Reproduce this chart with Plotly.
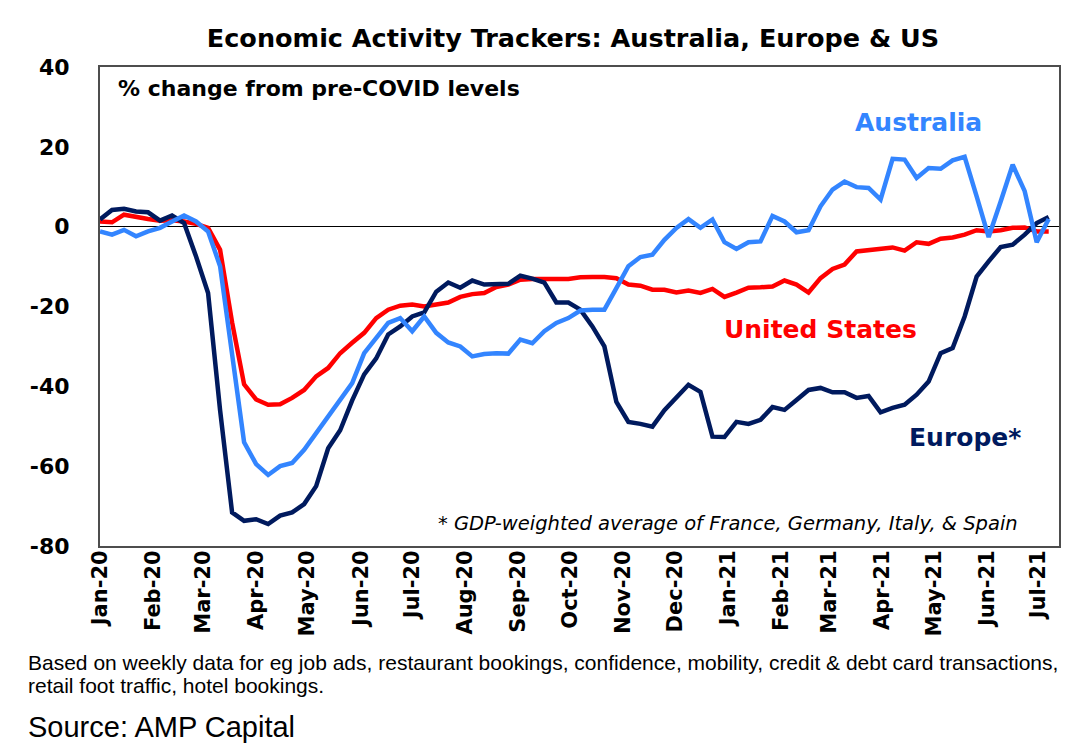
import pandas as pd
import plotly.graph_objects as go

# weekly observations, first week of Jan 2020 to early Jul 2021
weeks = pd.date_range("2020-01-02", periods=80, freq="7D")

australia = [-1.2, -2.0, -0.8, -2.4, -1.2, -0.3, 1.3, 2.8, 1.3, -1.2,
             -9.9, -31.0, -54.0, -59.5, -62.2, -60.0, -59.2, -55.9, -51.7, -47.9,
             -43.4, -39.2, -31.7, -27.9, -24.1, -22.9, -26.2, -22.5, -26.6, -29.0,
             -30.0, -32.5, -31.9, -31.7, -31.8, -28.3, -29.2, -26.2, -24.1, -22.9,
             -21.0, -20.8, -20.8, -15.4, -9.9, -7.6, -7.0, -3.3, -0.3, 1.9,
             -0.3, 1.8, -3.9, -5.6, -3.9, -3.7, 2.7, 1.3, -1.4, -0.9,
             5.1, 9.3, 11.3, 9.9, 9.7, 6.8, 17.0, 16.8, 12.2, 14.7,
             14.5, 16.6, 17.5, 7.6, -2.6, 6.3, 15.5, 8.9, -3.9, 1.9]

united_states = [1.3, 1.1, 3.0, 2.4, 1.9, 1.5, 1.6, 1.3, 0.7, -0.3,
                 -5.8, -24.0, -39.5, -43.3, -44.6, -44.5, -42.9, -40.9, -37.5, -35.4,
                 -31.7, -29.1, -26.6, -22.9, -20.8, -19.8, -19.5, -20.0, -19.4, -19.0,
                 -17.6, -16.9, -16.6, -15.1, -14.5, -13.3, -13.1, -13.0, -13.1, -13.1,
                 -12.7, -12.6, -12.6, -12.9, -14.5, -14.8, -15.8, -15.8, -16.5, -16.0,
                 -16.6, -15.6, -17.6, -16.5, -15.3, -15.2, -15.0, -13.5, -14.5, -16.5,
                 -12.9, -10.6, -9.5, -6.2, -5.8, -5.4, -5.2, -6.0, -3.9, -4.3,
                 -3.0, -2.7, -2.0, -0.9, -1.2, -0.9, -0.3, -0.2, -1.2, -1.2]

europe = [1.8, 4.2, 4.5, 3.8, 3.6, 1.5, 2.8, 0.9, -7.5, -16.6,
          -46.0, -71.6, -73.7, -73.3, -74.5, -72.4, -71.6, -69.5, -65.0, -55.5,
          -51.0, -43.5, -37.0, -33.0, -27.0, -25.0, -22.5, -21.5, -16.3, -14.0,
          -15.3, -13.5, -14.5, -14.3, -14.3, -12.3, -13.0, -14.0, -19.0, -19.0,
          -20.8, -25.0, -30.0, -43.9, -48.9, -49.4, -50.1, -46.0, -42.6, -39.6,
          -41.4, -52.6, -52.7, -48.9, -49.4, -48.4, -45.2, -45.9, -43.4, -40.9,
          -40.4, -41.5, -41.5, -42.9, -42.4, -46.5, -45.4, -44.6, -42.1, -38.8,
          -31.7, -30.4, -22.5, -12.5, -8.7, -5.1, -4.5, -2.0, 0.9, 2.4]

y_ticks = [40, 20, 0, -20, -40, -60, -80]
y_labels = ["40", "20", "0", "-20", "-40", "-60", "-80"]

BLUE = "#3385ff"
RED = "#ff0000"
NAVY = "#001a5e"
WIDE = "DejaVu Sans, Verdana, sans-serif"
PLAIN = "Liberation Sans, Arial, sans-serif"

# the page body has an 8px default margin, so the figure is drawn 8px smaller
PAGE_PAD = 8
W, H = 1086 - PAGE_PAD, 746 - PAGE_PAD

fig = go.Figure()
fig.add_trace(go.Scatter(x=weeks, y=united_states, mode="lines", name="United States",
                         line=dict(color=RED, width=4.5)))
fig.add_trace(go.Scatter(x=weeks, y=europe, mode="lines", name="Europe*",
                         line=dict(color=NAVY, width=4.5)))
fig.add_trace(go.Scatter(x=weeks, y=australia, mode="lines", name="Australia",
                         line=dict(color=BLUE, width=4.5)))


def px_x(px):
    return (px - 100) / 959


def px_y(py):
    return (546 - py) / 479


fig.update_layout(
    width=W, height=H,
    margin=dict(l=100 - PAGE_PAD, r=27, t=67 - PAGE_PAD, b=200, autoexpand=False),
    paper_bgcolor="white", plot_bgcolor="white",
    showlegend=False,
    font=dict(family=WIDE, color="black"),
    title=dict(text="<b>Economic Activity Trackers: Australia, Europe & US</b>",
               x=px_x(573), xref="paper", xanchor="center",
               y=1 - (38 - PAGE_PAD) / H, yanchor="middle",
               font=dict(size=25.5, family=WIDE, color="black")),
)

fig.update_xaxes(
    type="date", range=["2020-01-02", "2021-07-14"],
    tick0="2020-01-02", dtick="M1", tickformat="%b-%y",
    tickangle=-90, tickfont=dict(size=21, family=WIDE, weight="bold"),
    showgrid=False, zeroline=False, automargin=False,
    showline=True, mirror=True, linecolor="#4d4d4d", linewidth=2,
    ticks="", ticklabelstandoff=-6,
)
fig.update_yaxes(
    range=[-80, 40], tickmode="array", tickvals=y_ticks, ticktext=y_labels,
    tickfont=dict(size=22, family=WIDE, weight="bold"),
    showgrid=False, zeroline=True, zerolinecolor="black", zerolinewidth=1,
    showline=True, mirror=True, linecolor="#4d4d4d", linewidth=2, automargin=False,
    ticks="", ticklabelstandoff=24,
)

notes = [
    dict(text="<b>% change from pre-COVID levels</b>", x=px_x(116), y=px_y(88),
         xanchor="left", font=dict(size=22, family=WIDE, color="black")),
    dict(text="<b>Australia</b>", x=px_x(918), y=px_y(123),
         xanchor="center", font=dict(size=25, family=WIDE, color=BLUE)),
    dict(text="<b>United States</b>", x=px_x(820), y=px_y(329),
         xanchor="center", font=dict(size=25, family=WIDE, color=RED)),
    dict(text="<b>Europe*</b>", x=px_x(965), y=px_y(437),
         xanchor="center", font=dict(size=25, family=WIDE, color=NAVY)),
    dict(text="<i>* GDP-weighted average of France, Germany, Italy, & Spain</i>",
         x=px_x(728), y=px_y(523), xanchor="center",
         font=dict(size=19.5, family=WIDE, color="black")),
    dict(text="Based on weekly data for eg job ads, restaurant bookings, confidence, mobility, "
              "credit & debt card transactions,",
         x=px_x(26), y=px_y(662), xanchor="left",
         font=dict(size=21, family=PLAIN, color="black")),
    dict(text="retail foot traffic, hotel bookings.",
         x=px_x(26), y=px_y(685), xanchor="left",
         font=dict(size=21, family=PLAIN, color="black")),
    dict(text="Source: AMP Capital",
         x=px_x(26), y=px_y(727), xanchor="left",
         font=dict(size=29, family=PLAIN, color="black")),
]
for n in notes:
    fig.add_annotation(xref="paper", yref="paper", yanchor="middle",
                       showarrow=False, **n)

fig.write_html("out.html")
